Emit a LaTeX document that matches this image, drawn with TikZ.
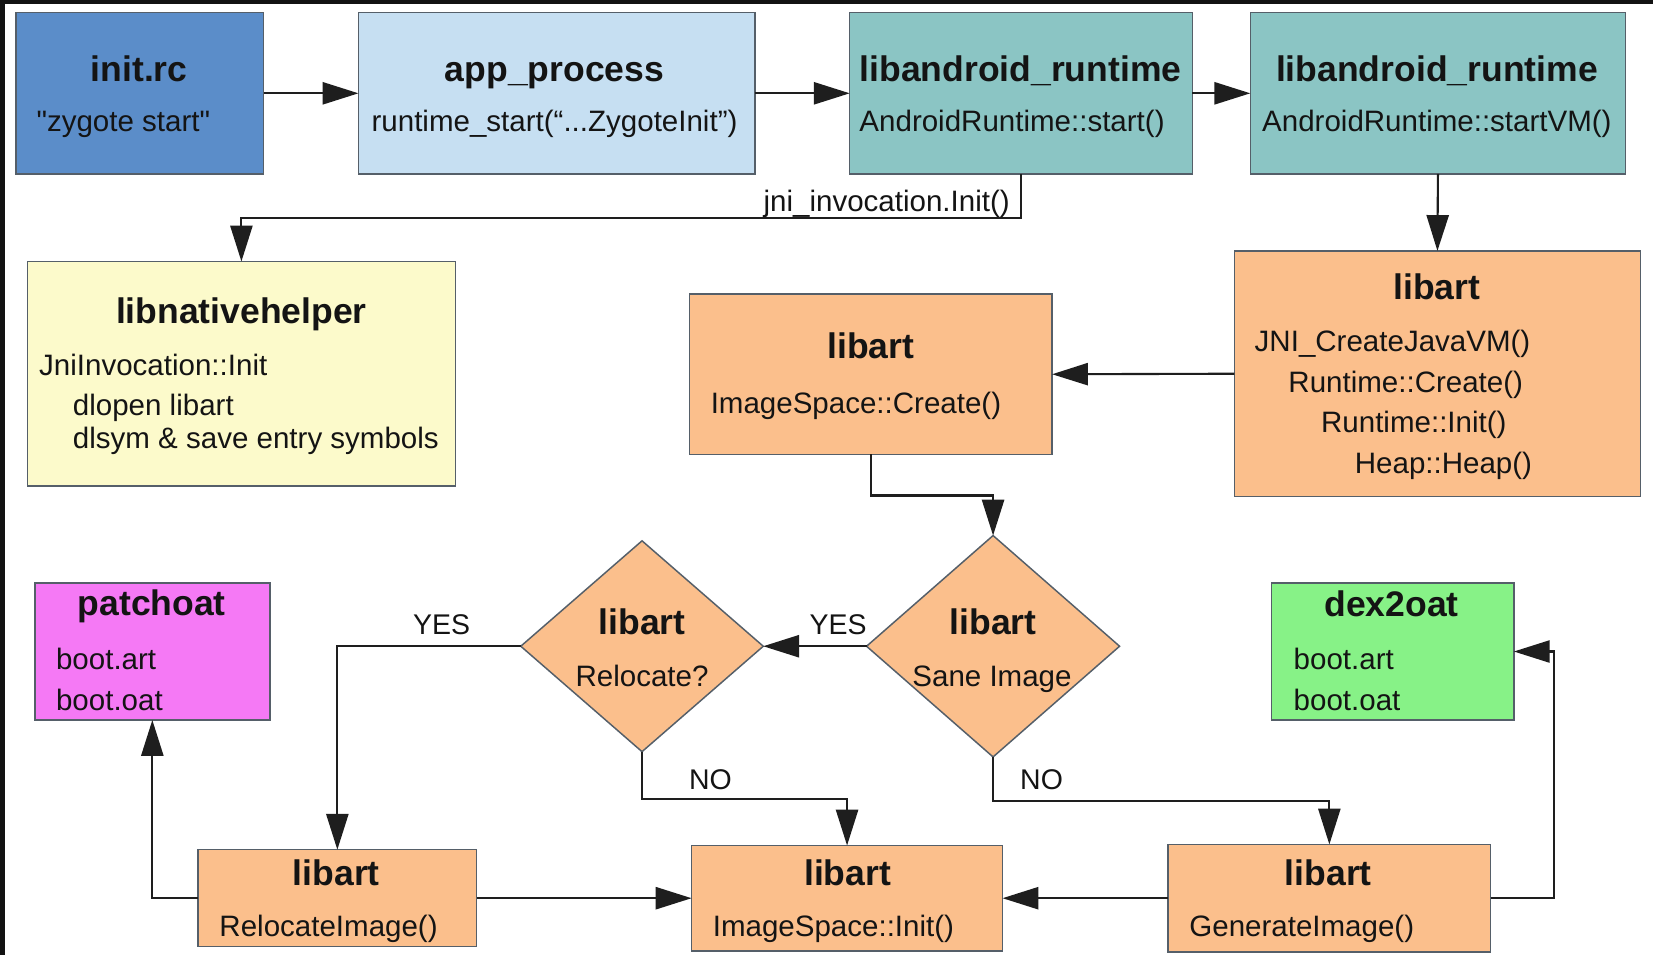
\documentclass[tikz,border=0pt]{standalone}
\usepackage{fontspec}
\setmainfont{Liberation Sans}[Ligatures=TeXOff]
\usetikzlibrary{arrows.meta,shapes.geometric}

\definecolor{frame}{RGB}{18,18,18}
\definecolor{ink}{RGB}{20,20,20}
\definecolor{wire}{RGB}{30,30,30}
\definecolor{edge}{RGB}{85,95,105}
\definecolor{initblue}{RGB}{91,141,201}
\definecolor{appblue}{RGB}{198,223,242}
\definecolor{rtteal}{RGB}{139,197,196}
\definecolor{helperyellow}{RGB}{252,250,203}
\definecolor{artorange}{RGB}{251,191,140}
\definecolor{patchpink}{RGB}{245,121,245}
\definecolor{dexgreen}{RGB}{135,242,135}

\begin{document}
\begin{tikzpicture}[x=1pt,y=-1pt,
  box/.style={draw=edge, line width=1.4pt, inner sep=0pt, outer sep=0pt},
  dia/.style={box, diamond},
  ttl/.style={inner sep=0pt, anchor=base, text=ink, font=\fontsize{33.7}{40}\selectfont\bfseries},
  txt/.style={inner sep=0pt, anchor=base west, text=ink, font=\fontsize{28}{34}\selectfont},
  txtc/.style={txt, anchor=base},
  lbl/.style={inner sep=0pt, anchor=base, text=ink, font=\fontsize{27}{32}\selectfont},
  arr/.style={draw=wire, line width=2pt, -{Triangle[length=34pt,width=21pt]}},
]
\useasboundingbox (0,0) rectangle (1568,906);
\fill[white] (0,0) rectangle (1568,906);
\fill[frame] (0,0) rectangle (1568,4);
\fill[frame] (0,0) rectangle (5,906);

% boxes
\node[box, fill=initblue, minimum width=235pt, minimum height=153pt] (initrc) at (132.5,88.5) {};
\node[box, fill=appblue, minimum width=376pt, minimum height=153pt] (app) at (528,88.5) {};
\node[box, fill=rtteal, minimum width=325pt, minimum height=153pt] (lr1) at (968.5,88.5) {};
\node[box, fill=rtteal, minimum width=356pt, minimum height=153pt] (lr2) at (1364,88.5) {};
\node[box, fill=helperyellow, minimum width=406pt, minimum height=213pt] (lnh) at (229,354.5) {};
\node[box, fill=artorange, minimum width=385pt, minimum height=233pt] (vm) at (1363.5,354.5) {};
\node[box, fill=artorange, minimum width=344pt, minimum height=152pt] (create) at (826,355) {};
\node[dia, fill=artorange, minimum width=240pt, minimum height=210pt] (sane) at (942,613) {};
\node[dia, fill=artorange, minimum width=230pt, minimum height=200pt] (reloc) at (609,613) {};
\node[box, fill=patchpink, minimum width=223pt, minimum height=130pt] (patchoat) at (144.5,618) {};
\node[box, fill=dexgreen, minimum width=230pt, minimum height=130pt] (dexoat) at (1321,618) {};
\node[box, fill=artorange, minimum width=264pt, minimum height=92pt] (relocimg) at (320,852) {};
\node[box, fill=artorange, minimum width=295pt, minimum height=100pt] (imginit) at (803.5,852) {};
\node[box, fill=artorange, minimum width=306pt, minimum height=102pt] (genimg) at (1261,852) {};

% texts
\node[ttl] (t-init) at (132,77) {init.rc};
\node[txtc] (b-init) at (117,125) {"zygote start"};
\node[ttl] (t-app) at (526,77) {app\_process};
\node[txtc] (b-app) at (526,125) {runtime\_start(“...ZygoteInit”)};
\node[ttl] (t-lr1) at (968,77) {libandroid\_runtime};
\node[txtc] (b-lr1) at (960,125) {AndroidRuntime::start()};
\node[ttl] (t-lr2) at (1363,77) {libandroid\_runtime};
\node[txtc] (b-lr2) at (1363,125) {AndroidRuntime::startVM()};

\node[ttl] (t-lnh) at (229,307) {libnativehelper};
\node[txt] (l-lnh1) at (37,356) {JniInvocation::Init};
\node[txt] (l-lnh2) at (69,394) {dlopen libart};
\node[txt] (l-lnh3) at (69,425) {dlsym \& save entry symbols};

\node[ttl] (t-vm) at (1363,284) {libart};
\node[txt] (l-vm1) at (1190,333) {JNI\_CreateJavaVM()};
\node[txt] (l-vm2) at (1222,372) {Runtime::Create()};
\node[txt] (l-vm3) at (1253,410) {Runtime::Init()};
\node[txt] (l-vm4) at (1285,449) {Heap::Heap()};

\node[ttl] (t-create) at (826,340) {libart};
\node[txt] (l-create) at (674,392) {ImageSpace::Create()};

\node[ttl] (t-sane) at (942,602) {libart};
\node[txtc] (l-sane) at (941,651) {Sane Image};
\node[ttl] (t-reloc) at (609,602) {libart};
\node[txtc] (l-reloc) at (609,651) {Relocate?};

\node[ttl] (t-patch) at (144,584) {patchoat};
\node[txt] (l-patch1) at (53,635) {boot.art};
\node[txt] (l-patch2) at (53,674) {boot.oat};
\node[ttl] (t-dex) at (1320,585) {dex2oat};
\node[txt] (l-dex1) at (1227,635) {boot.art};
\node[txt] (l-dex2) at (1227,674) {boot.oat};

\node[ttl] (t-relocimg) at (319,840) {libart};
\node[txt] (l-relocimg) at (208,888) {RelocateImage()};
\node[ttl] (t-imginit) at (804,840) {libart};
\node[txt] (l-imginit) at (676,888) {ImageSpace::Init()};
\node[ttl] (t-genimg) at (1260,840) {libart};
\node[txt] (l-genimg) at (1128,888) {GenerateImage()};

% connectors
\draw[arr] (initrc.east) -- (app.west);
\draw[arr] (app.east) -- (lr1.west);
\draw[arr] (lr1.east) -- (lr2.west);
\draw[arr] (lr1.south) -- ++(0,42) -| (lnh.north);
\node[txt, anchor=base east] (jni) at (958,201) {jni\_invocation.Init()};
\draw[arr] (lr2.south) -- (vm.north);
\draw[arr] (vm.west) -- (create.east);
\draw[arr] (create.south) -- ++(0,39) -| (sane.north);
\draw[arr] (sane.west) -- (reloc.east);
\node[lbl] (yes1) at (795,602) {YES};
\draw[arr] (reloc.west) -| (relocimg.north);
\node[lbl] (yes2) at (419,602) {YES};
\draw[arr] (reloc.south) -- ++(0,45) -| (imginit.north);
\node[lbl] (no1) at (674,749) {NO};
\draw[arr] (sane.south) -- ++(0,42) -| (genimg.north);
\node[lbl] (no2) at (988,749) {NO};
\draw[arr] (relocimg.east) -- (imginit.west);
\draw[arr] (genimg.west) -- (imginit.east);
\draw[arr] (relocimg.west) -| (patchoat.south);
\draw[arr] (genimg.east) -- ++(60,0) |- (dexoat.east);
\end{tikzpicture}
\end{document}
